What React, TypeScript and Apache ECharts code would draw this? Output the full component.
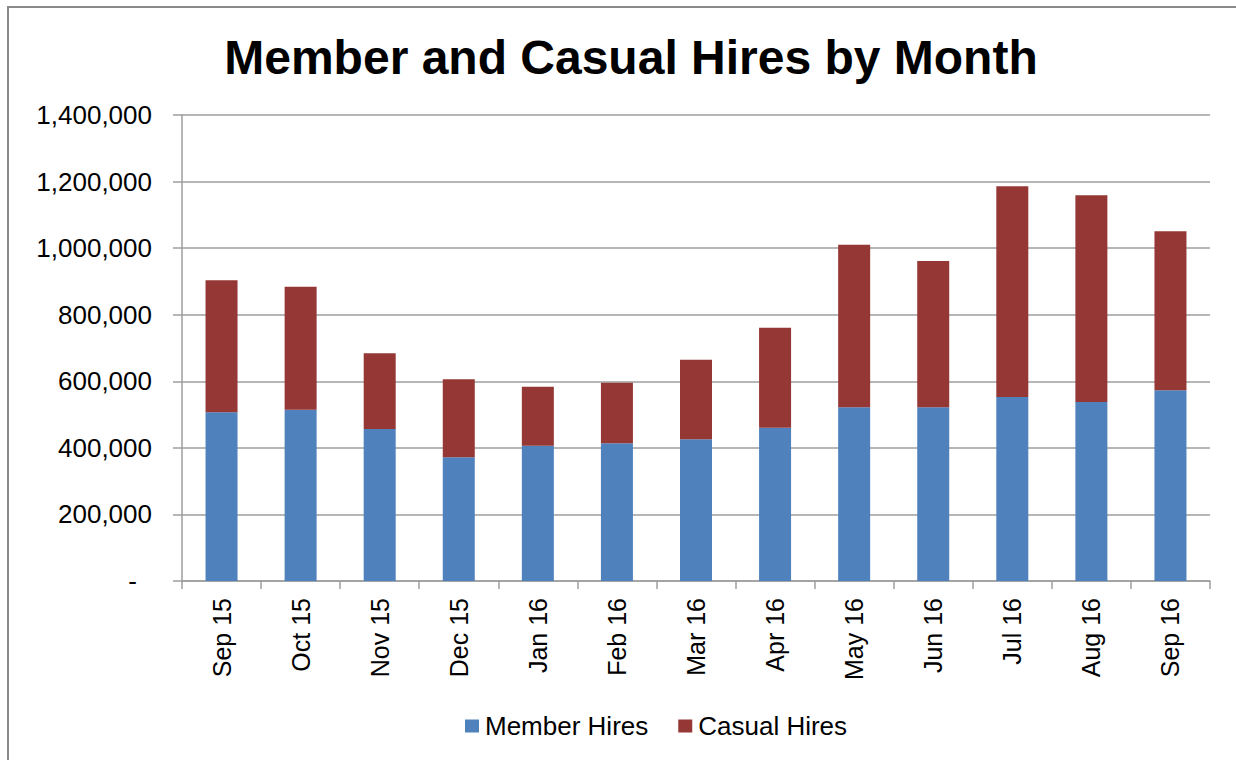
import React, { useEffect, useRef } from "react";
import * as echarts from "echarts";

const categories = ["Sep 15", "Oct 15", "Nov 15", "Dec 15", "Jan 16", "Feb 16", "Mar 16", "Apr 16", "May 16", "Jun 16", "Jul 16", "Aug 16", "Sep 16"];
const memberHires = [506800, 514600, 456600, 371600, 406500, 413700, 425700, 460600, 521800, 521800, 552800, 537800, 572900];
const casualHires = [396600, 369600, 227400, 234400, 177300, 182100, 239300, 300400, 488600, 439600, 632900, 620900, 477700];
const yTicks = { min: 0, max: 1400000, interval: 200000 };

const FONT = "'Liberation Sans', Arial, sans-serif";

export default function App() {
  const ref = useRef<HTMLDivElement>(null);
  useEffect(() => {
    if (!ref.current) return;
    const chart = echarts.init(ref.current, null, { renderer: "svg" });
    chart.setOption({
      animation: false,
      backgroundColor: "#fff",
      textStyle: { fontFamily: FONT },
      title: {
        text: "Member and Casual Hires by Month",
        left: 626,
        textAlign: "center",
        top: 28,
        textStyle: { fontFamily: FONT, fontSize: 48, fontWeight: "bold", color: "#000" },
      },
      graphic: [
        {
          type: "rect",
          shape: { x: 8, y: 7, width: 1240, height: 770 },
          style: { fill: "none", stroke: "#8a8a8a", lineWidth: 2 },
          silent: true,
        },
      ],
      legend: {
        data: ["Member Hires", "Casual Hires"],
        left: 460,
        top: 708,
        itemWidth: 14,
        itemHeight: 13,
        itemGap: 30,
        icon: "rect",
        textStyle: { fontFamily: FONT, fontSize: 26, color: "#000", padding: [0, 0, 0, 1] },
      },
      grid: { left: 182, right: 26, top: 115, bottom: 179 },
      xAxis: {
        type: "category",
        data: categories,
        axisLine: { show: true, lineStyle: { color: "#9e9e9e", width: 1.5 } },
        axisTick: { show: true, length: 8, alignWithLabel: false, lineStyle: { color: "#9e9e9e", width: 1.5 } },
        axisLabel: { rotate: 90, margin: 17, fontSize: 25, color: "#000", fontFamily: FONT },
      },
      yAxis: {
        type: "value",
        min: yTicks.min,
        max: yTicks.max,
        interval: yTicks.interval,
        axisLine: { show: true, lineStyle: { color: "#9e9e9e", width: 1.5 } },
        axisTick: { show: true, length: 9, lineStyle: { color: "#9e9e9e", width: 1.5 } },
        splitLine: { show: true, lineStyle: { color: "#9e9e9e", width: 1.5 } },
        axisLabel: {
          margin: 30,
          fontSize: 26,
          color: "#000",
          fontFamily: FONT,
          formatter: (v: number) => (v === 0 ? "{d|-}" : v.toLocaleString("en-US")),
          rich: { d: { fontSize: 26, color: "#000", fontFamily: FONT, padding: [0, 15, 0, 0] } },
        },
      },
      series: [
        {
          name: "Member Hires",
          type: "bar",
          stack: "total",
          barWidth: 32,
          data: memberHires,
          itemStyle: { color: "#4F81BD" },
        },
        {
          name: "Casual Hires",
          type: "bar",
          stack: "total",
          barWidth: 32,
          data: casualHires,
          itemStyle: { color: "#953735" },
        },
      ],
    });
    return () => chart.dispose();
  }, []);
  return <div ref={ref} style={{ position: "fixed", left: 0, top: 0, width: 1236, height: 760 }} />;
}
